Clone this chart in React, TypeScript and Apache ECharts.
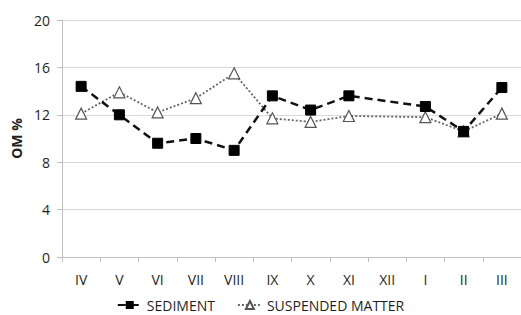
import React, { useEffect, useRef } from "react";
import * as echarts from "echarts";

const categories = ["IV", "V", "VI", "VII", "VIII", "IX", "X", "XI", "XII", "I", "II", "III"];
const sediment: (number | null)[] = [14.4, 12.0, 9.6, 10.0, 9.0, 13.6, 12.4, 13.6, null, 12.7, 10.6, 14.3];
const suspendedMatter: (number | null)[] = [12.1, 13.9, 12.2, 13.4, 15.5, 11.7, 11.4, 11.9, null, 11.8, 10.6, 12.1];
const yTicks = { min: 0, max: 20, interval: 4 };

export default function App() {
  const ref = useRef<HTMLDivElement>(null);
  useEffect(() => {
    if (!ref.current) return;
    const chart = echarts.init(ref.current, undefined, { renderer: "svg" });
    const font = "'Open Sans', 'Liberation Sans', sans-serif";
    chart.setOption({
      animation: false,
      backgroundColor: "#ffffff",
      textStyle: { fontFamily: font },
      grid: { left: 62, right: 0, top: 20, bottom: 58 },
      legend: {
        top: 298,
        left: "center",
        padding: 0,
        itemGap: 22,
        itemWidth: 24,
        itemHeight: 10,
        textStyle: { fontFamily: font, fontSize: 14, lineHeight: 14, color: "#1f1f1f" },
        data: ["SEDIMENT", "SUSPENDED MATTER"],
      },
      xAxis: {
        type: "category",
        data: categories,
        boundaryGap: true,
        axisLine: { lineStyle: { color: "#bfbfbf", width: 1 } },
        axisTick: { show: true, length: 5, lineStyle: { color: "#bfbfbf" } },
        axisLabel: { fontFamily: font, fontSize: 14, color: "#1f1f1f", margin: 15 },
      },
      yAxis: {
        type: "value",
        min: yTicks.min,
        max: yTicks.max,
        interval: yTicks.interval,
        name: "OM %",
        nameLocation: "middle",
        nameGap: 35,
        nameTextStyle: { fontFamily: font, fontSize: 14, fontWeight: "bold", color: "#1f1f1f" },
        axisLine: { show: true, lineStyle: { color: "#bfbfbf", width: 1 } },
        axisTick: { show: true, length: 5, lineStyle: { color: "#bfbfbf" } },
        axisLabel: { fontFamily: font, fontSize: 14, color: "#1f1f1f", margin: 12 },
        splitLine: { lineStyle: { color: "#d9d9d9", width: 1 } },
      },
      series: [
        {
          name: "SEDIMENT",
          type: "line",
          data: sediment,
          connectNulls: true,
          symbol: "rect",
          symbolSize: 10,
          itemStyle: { color: "#000000", borderColor: "#000000" },
          lineStyle: { color: "#111111", width: 2.5, type: [8, 5] },
          z: 3,
        },
        {
          name: "SUSPENDED MATTER",
          type: "line",
          data: suspendedMatter,
          connectNulls: true,
          symbol: "triangle",
          symbolSize: 11,
          itemStyle: { color: "#ffffff", borderColor: "#555555", borderWidth: 1.2 },
          lineStyle: { color: "#666666", width: 1.8, type: [2, 2] },
          z: 2,
        },
      ],
    });
    return () => chart.dispose();
  }, []);
  return <div ref={ref} style={{ width: 521, height: 315, position: "absolute", left: 0, top: 0 }} />;
}
